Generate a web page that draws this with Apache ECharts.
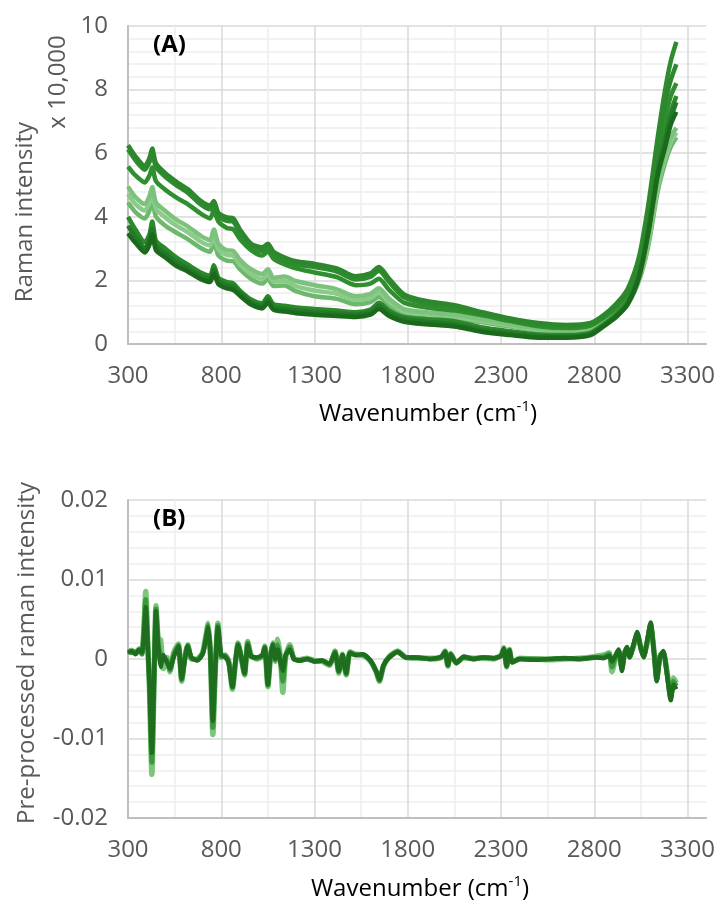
<!DOCTYPE html>
<html><head><meta charset="utf-8">
<script src="https://cdn.jsdelivr.net/npm/echarts@6/dist/echarts.min.js"></script>
<style>html,body{margin:0;padding:0;background:#fff}#c{width:718px;height:903px}</style>
</head><body><div id="c"></div>
<script>
// ---------- Panel (A): raw Raman spectra (x 10,000) ----------
const wavenumberA = [300,340,390,415,430,450,500,560,620,690,740,760,785,830,865,900,960,1020,1050,1080,1140,1200,1300,1420,1520,1600,1645,1700,1780,1900,2050,2200,2350,2500,2650,2780,2850,2920,2980,3040,3090,3140,3180,3210,3240];
const specA = [6.25,5.9,5.6,5.85,6.15,5.68,5.37,5.1,4.87,4.5,4.35,4.5,4.12,3.98,3.95,3.6,3.15,3.04,3.15,2.9,2.72,2.6,2.52,2.38,2.13,2.22,2.42,2.05,1.56,1.35,1.22,1.0,0.8,0.66,0.6,0.66,0.9,1.25,1.68,2.6,4.1,6.2,7.6,8.3,8.8];
const specB = [6.12,5.78,5.48,5.72,6.0,5.56,5.26,4.99,4.76,4.39,4.24,4.38,4.01,3.87,3.84,3.49,3.04,2.93,3.03,2.79,2.61,2.5,2.42,2.28,2.03,2.11,2.3,1.95,1.47,1.27,1.15,0.94,0.75,0.62,0.57,0.64,0.9,1.28,1.75,2.75,4.4,6.5,8.0,8.9,9.5];
const specC = [5.58,5.3,5.08,5.3,5.55,5.12,4.85,4.6,4.4,4.1,3.95,4.2,3.85,3.65,3.6,3.3,2.95,2.78,2.92,2.68,2.5,2.38,2.25,2.1,1.85,1.9,2.05,1.7,1.3,1.15,1.05,0.9,0.72,0.56,0.5,0.58,0.82,1.15,1.58,2.45,3.85,5.9,7.1,7.8,8.2];
const specD = [4.95,4.62,4.4,4.65,4.94,4.45,4.18,3.9,3.7,3.4,3.27,3.6,3.15,2.95,2.92,2.65,2.35,2.2,2.35,2.08,2.12,1.98,1.85,1.72,1.5,1.58,1.75,1.42,1.1,1.0,0.92,0.78,0.62,0.48,0.42,0.5,0.72,1.0,1.35,2.1,3.3,5.1,6.0,6.5,6.8];
const specE = [4.72,4.4,4.2,4.45,4.75,4.25,3.98,3.72,3.52,3.22,3.1,3.42,2.98,2.8,2.77,2.5,2.2,2.05,2.2,1.96,1.98,1.82,1.68,1.58,1.38,1.45,1.62,1.32,1.02,0.93,0.86,0.72,0.58,0.45,0.4,0.48,0.7,0.98,1.32,2.05,3.2,4.95,5.85,6.35,6.65];
const specF = [4.45,4.15,3.95,4.2,4.5,4.0,3.72,3.5,3.3,3.02,2.9,3.22,2.78,2.62,2.6,2.35,2.05,1.9,2.05,1.82,1.84,1.66,1.5,1.42,1.25,1.32,1.48,1.2,0.95,0.86,0.8,0.68,0.55,0.42,0.38,0.45,0.68,0.95,1.28,2.0,3.1,4.8,5.7,6.2,6.5];
const specG = [4.0,3.6,3.2,3.45,3.85,3.25,3.0,2.72,2.5,2.25,2.15,2.48,2.08,1.95,1.9,1.68,1.4,1.28,1.5,1.25,1.2,1.15,1.1,1.05,1.0,1.08,1.3,1.05,0.85,0.78,0.72,0.52,0.4,0.3,0.28,0.36,0.62,0.95,1.35,2.25,3.7,5.6,6.6,7.3,7.8];
const specH = [3.72,3.38,3.02,3.28,3.62,3.08,2.85,2.58,2.38,2.14,2.05,2.35,1.98,1.85,1.8,1.6,1.32,1.2,1.4,1.16,1.1,1.05,1.0,0.96,0.92,1.0,1.2,0.96,0.78,0.7,0.62,0.44,0.34,0.25,0.23,0.32,0.58,0.9,1.3,2.18,3.6,5.45,6.4,7.1,7.6];
const specI = [3.48,3.18,2.88,3.12,3.45,2.95,2.72,2.45,2.28,2.04,1.95,2.22,1.88,1.75,1.7,1.52,1.24,1.12,1.3,1.08,1.02,0.97,0.92,0.88,0.85,0.92,1.1,0.88,0.7,0.62,0.55,0.38,0.28,0.2,0.2,0.28,0.55,0.86,1.25,2.1,3.5,5.3,6.2,6.9,7.3];

// ---------- Panel (B): pre-processed spectra ----------
const wavenumberB = [300,320,340,360,375,385,395,405,415,428,440,450,462,475,490,510,525,545,570,588,605,620,640,670,700,718,730,742,755,768,782,800,820,840,860,875,890,908,925,942,960,990,1020,1033,1050,1063,1076,1090,1103,1118,1130,1145,1167,1190,1220,1260,1300,1340,1380,1410,1430,1450,1470,1490,1520,1560,1600,1630,1648,1670,1700,1745,1790,1850,1920,1980,2000,2015,2030,2060,2100,2150,2200,2260,2300,2315,2330,2345,2360,2400,2480,2560,2640,2720,2800,2850,2880,2895,2915,2930,2948,2962,2975,2990,3010,3030,3050,3065,3085,3102,3120,3135,3152,3170,3190,3210,3225,3240];
const prepLight = [0.0009,0.0011,0.0007,0.0013,0.0009,0.0038,0.0085,0.0025,-0.0035,-0.0145,-0.0025,0.0067,0.0025,0.0024,-0.0012,0.0002,-0.0016,0.0008,0.0019,-0.0028,0.0003,0.0018,0.0000,0.0000,0.0008,0.0030,0.0045,0.0005,-0.0095,-0.0015,0.0045,0.0002,0.0005,-0.0003,-0.0038,-0.0008,0.0020,0.0000,-0.0020,0.0022,0.0005,0.0000,0.0003,0.0016,-0.0035,0.0000,0.0020,-0.0003,0.0025,0.0000,-0.0042,0.0002,0.0018,0.0000,-0.0001,0.0001,-0.0002,-0.0003,-0.0008,0.0010,-0.0018,0.0006,-0.0020,0.0009,0.0006,0.0005,-0.0003,-0.0016,-0.0028,-0.0009,0.0003,0.0010,0.0002,0.0001,0.0001,0.0002,0.0010,-0.0009,0.0007,-0.0005,0.0002,0.0001,0.0001,0.0000,0.0005,0.0014,-0.0010,0.0012,-0.0004,0.0001,0.0000,-0.0001,0.0000,0.0001,0.0003,0.0005,0.0008,-0.0016,0.0002,0.0010,-0.0010,0.0008,0.0013,0.0004,0.0016,0.0030,0.0015,0.0005,0.0022,0.0042,0.0010,-0.0025,0.0004,0.0008,-0.0016,-0.0046,-0.0024,-0.0030];
const prepMid = [0.0010,0.0008,0.0009,0.0010,0.0006,0.0034,0.0075,0.0022,-0.0032,-0.0130,-0.0022,0.0063,0.0020,0.0005,0.0000,-0.0002,-0.0014,0.0005,0.0017,-0.0026,0.0001,0.0017,0.0001,-0.0001,0.0007,0.0027,0.0042,0.0005,-0.0086,-0.0012,0.0042,0.0003,0.0004,-0.0004,-0.0036,-0.0006,0.0019,0.0001,-0.0019,0.0020,0.0004,0.0001,0.0004,0.0015,-0.0033,0.0001,0.0019,-0.0001,0.0018,-0.0002,-0.0028,0.0003,0.0015,0.0000,-0.0002,0.0000,-0.0003,-0.0002,-0.0007,0.0009,-0.0016,0.0005,-0.0019,0.0008,0.0005,0.0005,-0.0002,-0.0015,-0.0027,-0.0008,0.0002,0.0009,0.0002,0.0002,0.0000,0.0002,0.0009,-0.0008,0.0006,-0.0005,0.0002,0.0000,0.0002,0.0001,0.0004,0.0013,-0.0009,0.0011,-0.0004,0.0000,0.0000,0.0000,0.0001,0.0000,0.0002,0.0003,0.0006,-0.0010,0.0004,0.0011,-0.0012,0.0007,0.0014,0.0003,0.0017,0.0032,0.0013,0.0003,0.0024,0.0044,0.0009,-0.0026,0.0003,0.0009,-0.0018,-0.0049,-0.0028,-0.0034];
const prepDark = [0.0008,0.0010,0.0006,0.0012,0.0008,0.0030,0.0065,0.0020,-0.0030,-0.0118,-0.0020,0.0060,0.0015,-0.0010,0.0005,-0.0005,-0.0012,0.0002,0.0016,-0.0025,0.0000,0.0016,0.0002,-0.0002,0.0006,0.0025,0.0040,0.0005,-0.0078,-0.0010,0.0040,0.0005,0.0003,-0.0005,-0.0035,-0.0005,0.0018,0.0002,-0.0018,0.0018,0.0003,0.0002,0.0005,0.0014,-0.0032,0.0002,0.0018,0.0000,0.0012,-0.0005,-0.0015,0.0005,0.0012,0.0000,-0.0002,0.0000,-0.0003,-0.0002,-0.0006,0.0008,-0.0015,0.0005,-0.0018,0.0008,0.0005,0.0006,-0.0002,-0.0015,-0.0026,-0.0008,0.0002,0.0009,0.0002,0.0002,0.0000,0.0003,0.0009,-0.0008,0.0006,-0.0005,0.0003,0.0000,0.0002,0.0001,0.0004,0.0013,-0.0009,0.0011,-0.0004,0.0000,-0.0001,0.0000,0.0001,0.0000,0.0002,0.0001,0.0004,-0.0003,0.0005,0.0012,-0.0015,0.0006,0.0015,0.0002,0.0018,0.0034,0.0012,0.0002,0.0025,0.0046,0.0008,-0.0028,0.0002,0.0010,-0.0020,-0.0052,-0.0032,-0.0038];

const xTicks = [300, 800, 1300, 1800, 2300, 2800, 3300];

const FONT = "'Open Sans', sans-serif";
const GRAY = '#595959';
const FS = 24;

const topSeries = [
  {d: specF, c: '#6DB86D', w: 4.5},
  {d: specE, c: '#8ACB8A', w: 4.5},
  {d: specD, c: '#7CC27C', w: 4.5},
  {d: specC, c: '#2F8F2F', w: 4.5},
  {d: specB, c: '#2E8B2E', w: 4.5},
  {d: specA, c: '#2D882D', w: 4.5},
  {d: specG, c: '#2A8A2A', w: 4.5},
  {d: specH, c: '#23782A', w: 4.5},
  {d: specI, c: '#1B6A1B', w: 4.5}
];
const botSeries = [
  {d: prepLight, c: '#7DC47D', w: 5.5},
  {d: prepMid, c: '#3C9A3C', w: 5},
  {d: prepDark, c: '#1F6E1F', w: 4.5}
];

function xAxisCfg(gi) {
  return {
    type: 'value', gridIndex: gi, min: 300, max: 3400, interval: 500,
    axisLine: {show: true, onZero: false, lineStyle: {color: '#BFBFBF', width: 2}},
    axisTick: {show: false},
    axisLabel: {color: GRAY, fontSize: FS, fontFamily: FONT, margin: 20,
      formatter: v => xTicks.indexOf(v) >= 0 ? String(v) : ''},
    splitLine: {show: true, lineStyle: {color: ['#D9D9D9','#D9D9D9','#D9D9D9','#D9D9D9','#D9D9D9','#D9D9D9','#D9D9D9','rgba(0,0,0,0)'], width: 1.5}},
    minorTick: {show: false, splitNumber: 2},
    minorSplitLine: {show: true, lineStyle: {color: '#EEEEEE', width: 1.5}}
  };
}
function yAxisCfg(gi, min, max, interval) {
  return {
    type: 'value', gridIndex: gi, min: min, max: max, interval: interval,
    axisLine: {show: true, onZero: false, lineStyle: {color: '#BFBFBF', width: 2}},
    axisTick: {show: false},
    axisLabel: {color: GRAY, fontSize: FS, fontFamily: FONT, margin: 20},
    splitLine: {show: true, lineStyle: {color: '#D9D9D9', width: 1.5}},
    minorTick: {show: false, splitNumber: 5},
    minorSplitLine: {show: true, lineStyle: {color: '#EEEEEE', width: 1.5}}
  };
}

const series = [];
topSeries.forEach(s => series.push({
  type: 'line', xAxisIndex: 0, yAxisIndex: 0, showSymbol: false, smooth: 0.25,
  lineStyle: {color: s.c, width: s.w}, itemStyle: {color: s.c},
  data: wavenumberA.map((w, i) => [w, s.d[i]])
}));
botSeries.forEach(s => series.push({
  type: 'line', xAxisIndex: 1, yAxisIndex: 1, showSymbol: false, smooth: 0.2,
  lineStyle: {color: s.c, width: s.w}, itemStyle: {color: s.c},
  data: wavenumberB.map((w, i) => [w, s.d[i]])
}));

const richX = {
  a: {fontSize: FS, fontFamily: FONT, color: GRAY, lineHeight: 30},
  s: {fontSize: 15, fontFamily: FONT, color: GRAY, lineHeight: 30, verticalAlign: 'top', padding: [0, 0, 10, 0]}
};
const nameFont = FS + 'px ' + FONT;
const panelTitle = {color: '#000000', fontSize: 24, fontWeight: 'bold', fontFamily: FONT};

const chart = echarts.init(document.getElementById('c'), null, {renderer: 'canvas'});
chart.setOption({
  animation: false,
  backgroundColor: '#ffffff',
  title: [
    {text: '(A)', left: 153, top: 33, padding: 0, textStyle: panelTitle},
    {text: '(B)', left: 153, top: 507, padding: 0, textStyle: panelTitle}
  ],
  grid: [
    {left: 128, right: 10, top: 26, height: 318},
    {left: 128, right: 10, top: 500, height: 318}
  ],
  xAxis: [xAxisCfg(0), xAxisCfg(1)],
  yAxis: [yAxisCfg(0, 0, 10, 2), yAxisCfg(1, -0.02, 0.02, 0.01)],
  series: series,
  graphic: [
    {type: 'text', x: 25, y: 212, rotation: Math.PI / 2,
      style: {text: 'Raman intensity', fill: GRAY, font: nameFont, align: 'center', verticalAlign: 'middle'}},
    {type: 'text', x: 58, y: 82, rotation: Math.PI / 2,
      style: {text: 'x 10,000', fill: GRAY, font: nameFont, align: 'center', verticalAlign: 'middle'}},
    {type: 'text', x: 27, y: 653, rotation: Math.PI / 2,
      style: {text: 'Pre-processed raman intensity', fill: GRAY, font: nameFont, align: 'center', verticalAlign: 'middle'}},
    {type: 'text', x: 428, y: 414,
      style: {text: '{a|Wavenumber (cm}{s|-1}{a|)}', rich: richX, align: 'center', verticalAlign: 'middle'}},
    {type: 'text', x: 420, y: 889,
      style: {text: '{a|Wavenumber (cm}{s|-1}{a|)}', rich: richX, align: 'center', verticalAlign: 'middle'}}
  ]
});
</script>
</body></html>
